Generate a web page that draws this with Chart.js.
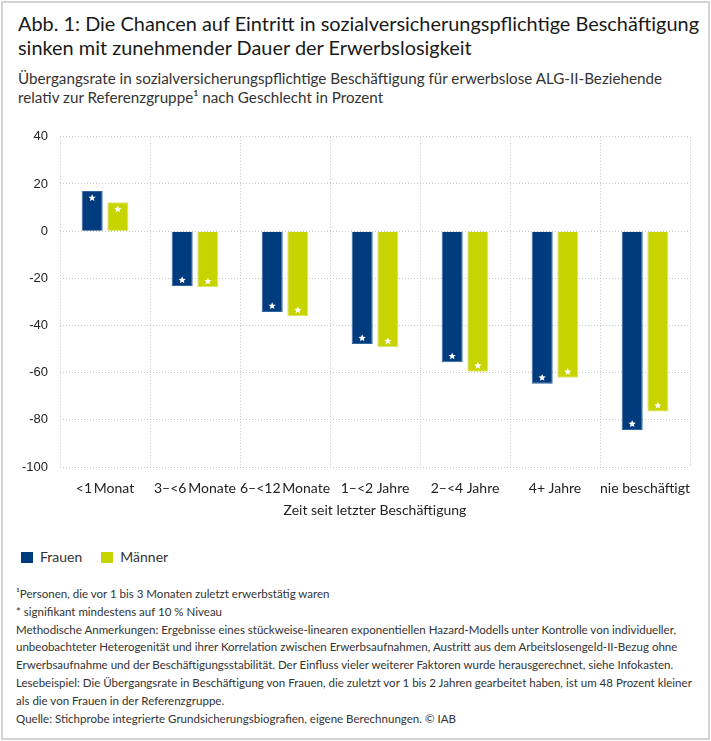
<!DOCTYPE html>
<html><head><meta charset="utf-8">
<script src="https://cdn.jsdelivr.net/npm/chart.js@4/dist/chart.umd.min.js"></script>
<style>
html,body{margin:0;padding:0;background:#fff;}
#frame{position:absolute;left:1px;top:1px;width:705px;height:735px;border:2px solid #d4d4d4;}
.blk{position:absolute;left:18px;color:#222;font-family:Lato,"Noto Sans",sans-serif;}
.blk span.ln{display:block;white-space:nowrap;transform-origin:0 50%;width:max-content;}
#title{top:11px;font-size:20px;line-height:24px;color:#1a1a1a;}
#sub{top:70px;font-size:14.5px;line-height:18.5px;color:#333;}
#wrap{position:absolute;left:0;top:117px;width:711px;height:403px;}
#legend{position:absolute;left:21px;top:548px;font-family:Lato,"Noto Sans",sans-serif;font-size:14px;color:#333;white-space:nowrap;}
#legend span.sw{display:inline-block;width:12px;height:11px;vertical-align:-1px;margin-right:7px;}
#legend span.it{margin-right:19px;}
#foot{left:16px;top:585px;font-size:11.8px;line-height:17.8px;color:#333;}
</style></head><body>
<div id="frame"></div>
<div class="blk" id="title"><span class="ln" data-w="681">Abb. 1: Die Chancen auf Eintritt in sozialversicherungspflichtige Beschäftigung</span><span class="ln">sinken mit zunehmender Dauer der Erwerbslosigkeit</span></div>
<div class="blk" id="sub"><span class="ln" data-w="644">Übergangsrate in sozialversicherungspflichtige Beschäftigung für erwerbslose ALG-II-Beziehende</span><span class="ln">relativ zur Referenzgruppe¹ nach Geschlecht in Prozent</span></div>
<div id="wrap"><canvas id="c"></canvas></div>
<div id="legend"></div>
<div class="blk" id="foot"><span class="ln">¹Personen, die vor 1 bis 3 Monaten zuletzt erwerbstätig waren</span><span class="ln">* signifikant mindestens auf 10 % Niveau</span><span class="ln" data-w="660">Methodische Anmerkungen: Ergebnisse eines stückweise-linearen exponentiellen Hazard-Modells unter Kontrolle von individueller,</span><span class="ln">unbeobachteter Heterogenität und ihrer Korrelation zwischen Erwerbsaufnahmen, Austritt aus dem Arbeitslosengeld-II-Bezug ohne</span><span class="ln">Erwerbsaufnahme und der Beschäftigungsstabilität. Der Einfluss vieler weiterer Faktoren wurde herausgerechnet, siehe Infokasten.</span><span class="ln">Lesebeispiel: Die Übergangsrate in Beschäftigung von Frauen, die zuletzt vor 1 bis 2 Jahren gearbeitet haben, ist um 48 Prozent kleiner</span><span class="ln">als die von Frauen in der Referenzgruppe.</span><span class="ln">Quelle: Stichprobe integrierte Grundsicherungsbiografien, eigene Berechnungen. © IAB</span></div>
<script>
const categories = ["<1\u2009Monat","3\u2013<6\u2009Monate","6\u2013<12\u2009Monate","1\u2013<2 Jahre","2\u2013<4 Jahre","4+ Jahre","nie beschäftigt"];
const frauen = [17.0, -23.3, -34.3, -47.9, -55.6, -64.7, -84.3];
const maenner = [12.3, -23.8, -36.0, -49.2, -59.6, -62.2, -76.5];
const sigFrauen = [true,true,true,true,true,true,true];
const sigMaenner = [true,true,true,true,true,true,true];
const yTicks = [40,20,0,-20,-40,-60,-80,-100];
const seriesNames = ["Frauen","Männer"];
const colors = ["#003c7d","#c8d400"];
const borders = ["#2e649f","#dbe35e"];

// condense text blocks horizontally (reference uses a narrow face)
document.querySelectorAll('.blk').forEach(b=>{
  const ref=b.querySelector('[data-w]');
  if(!ref) return;
  const w=ref.getBoundingClientRect().width;
  const s=parseFloat(ref.dataset.w)/w;
  b.querySelectorAll('.ln').forEach(l=>{l.style.transform='scaleX('+s+')';});
});

const leg = document.getElementById('legend');
seriesNames.forEach((n,i)=>{
  const s=document.createElement('span');s.className='it';
  s.innerHTML='<span class="sw" style="background:'+colors[i]+'"></span>'+n;
  leg.appendChild(s);
});

function starPath(ctx,cx,cy,r){
  ctx.beginPath();
  for(let k=0;k<10;k++){
    const rr = k%2===0 ? r : r*0.45;
    const a = -Math.PI/2 + k*Math.PI/5;
    const x=cx+rr*Math.cos(a), y=cy+rr*Math.sin(a);
    if(k===0) ctx.moveTo(x,y); else ctx.lineTo(x,y);
  }
  ctx.closePath();
}
const starPlugin = {
  id:'stars',
  afterDatasetsDraw(chart){
    const ctx=chart.ctx;
    const sigs=[sigFrauen,sigMaenner];
    chart.data.datasets.forEach((ds,di)=>{
      const meta=chart.getDatasetMeta(di);
      meta.data.forEach((bar,i)=>{
        if(!sigs[di][i]) return;
        const v=ds.data[i];
        const y = v>=0 ? bar.y+7 : bar.y-6;
        ctx.save();ctx.fillStyle='#fff';
        starPath(ctx,bar.x,y,3.8);ctx.fill();ctx.restore();
      });
    });
  }
};

const lblFont={family:"Lato, 'Noto Sans', sans-serif",size:14};
new Chart(document.getElementById('c'),{
  type:'bar',
  data:{labels:categories,datasets:[
    {label:seriesNames[0],data:frauen,backgroundColor:colors[0],borderColor:borders[0],borderWidth:1,categoryPercentage:0.57,barPercentage:0.82},
    {label:seriesNames[1],data:maenner,backgroundColor:colors[1],borderColor:borders[1],borderWidth:1,categoryPercentage:0.57,barPercentage:0.82}
  ]},
  options:{
    responsive:true,maintainAspectRatio:false,animation:false,
    layout:{padding:{top:10.5,right:21,left:0,bottom:0}},
    plugins:{legend:{display:false},tooltip:{enabled:false}},
    scales:{
      x:{
        grid:{offset:true,color:'#c8c8c8',lineWidth:1,drawTicks:false},
        border:{display:false,dash:[1,2]},
        ticks:{color:'#222',font:lblFont,padding:13,maxRotation:0,autoSkip:false},
        title:{display:true,text:'Zeit seit letzter Beschäftigung',color:'#222',font:lblFont,padding:{top:4,bottom:1}},
        afterFit(s){s.height=53;}
      },
      y:{
        min:-100,max:40,
        afterBuildTicks(s){s.ticks=yTicks.map(v=>({value:v}));},
        grid:{color:'#c8c8c8',lineWidth:1,drawTicks:false},
        border:{display:false,dash:[1,2]},
        ticks:{color:'#222',font:{family:"Liberation Sans, Arial, sans-serif",size:13},padding:12},
        afterFit(s){s.width=60;}
      }
    }
  },
  plugins:[starPlugin]
});
</script>
</body></html>
